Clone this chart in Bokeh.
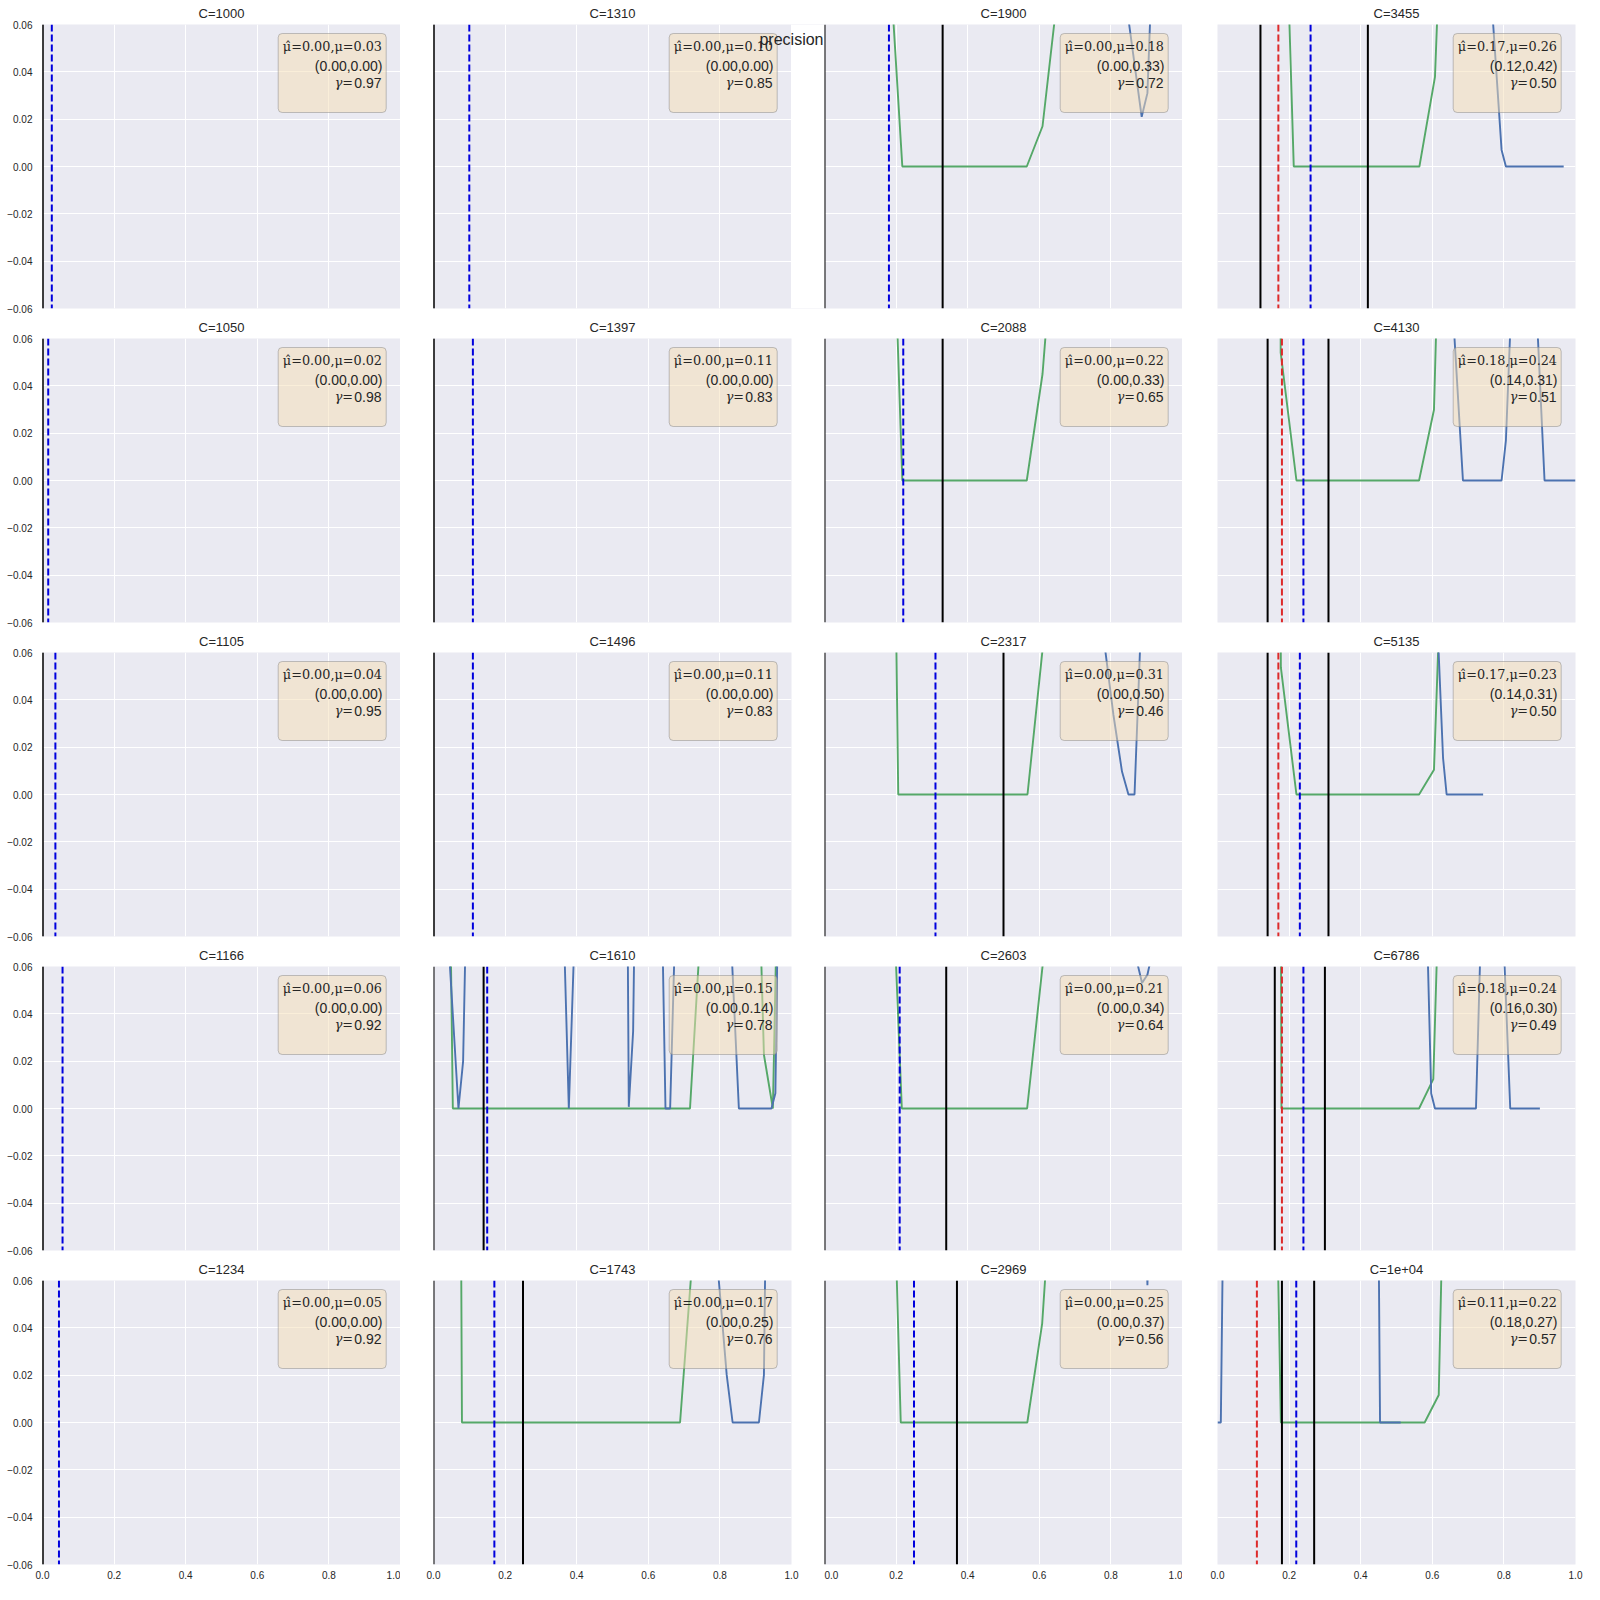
from bokeh.plotting import figure
from bokeh.layouts import column, row
from bokeh.models import (Range1d, FixedTicker, CustomJSTickFormatter, Span,
                          BoxAnnotation, Label)
from bokeh.embed import file_html
from bokeh.resources import INLINE

# ---------------- data (panels in column-major order) ----------------
c_labels = ["1000", "1050", "1105", "1166", "1234",
            "1310", "1397", "1496", "1610", "1743",
            "1900", "2088", "2317", "2603", "2969",
            "3455", "4130", "5135", "6786", "1e+04"]
mu_hat = [0.0, 0.0, 0.0, 0.0, 0.0,
          0.0, 0.0, 0.0, 0.0, 0.0,
          0.0, 0.0, 0.0, 0.0, 0.0,
          0.17, 0.18, 0.17, 0.18, 0.11]
mu = [0.026, 0.016, 0.036, 0.056, 0.046,
      0.10, 0.11, 0.11, 0.15, 0.17,
      0.18, 0.22, 0.31, 0.21, 0.25,
      0.26, 0.24, 0.23, 0.24, 0.22]
ci_lo = [0.0, 0.0, 0.0, 0.0, 0.0,
         0.0, 0.0, 0.0, 0.0, 0.0,
         0.0, 0.0, 0.0, 0.0, 0.0,
         0.12, 0.14, 0.14, 0.16, 0.18]
ci_hi = [0.0, 0.0, 0.0, 0.0, 0.0,
         0.0, 0.0, 0.0, 0.14, 0.25,
         0.33, 0.33, 0.50, 0.34, 0.37,
         0.42, 0.31, 0.31, 0.30, 0.27]
gamma = [0.97, 0.98, 0.95, 0.92, 0.92,
         0.85, 0.83, 0.83, 0.78, 0.76,
         0.72, 0.65, 0.46, 0.64, 0.56,
         0.50, 0.51, 0.50, 0.49, 0.57]

green_x = [[], [], [], [], [],
           [], [], [],
           [0.02, 0.045, 0.054, 0.7165, 0.745, 0.80, 0.91, 0.923, 0.948, 0.96],
           [0.07, 0.0795, 0.6887, 0.73, 0.80],
           [0.13, 0.174, 0.2174, 0.565, 0.609, 0.652, 0.70],
           [0.13, 0.174, 0.2174, 0.565, 0.609, 0.652, 0.70],
           [0.174, 0.206, 0.567, 0.611, 0.652],
           [0.174, 0.216, 0.566, 0.611, 0.652],
           [0.174, 0.213, 0.5665, 0.608, 0.652],
           [0.174, 0.213, 0.564, 0.6075, 0.652],
           [0.176, 0.1765, 0.2205, 0.563, 0.6047, 0.648],
           [0.1725, 0.177, 0.2205, 0.563, 0.6047, 0.648],
           [0.175, 0.1786, 0.563, 0.6028, 0.645],
           [0.165, 0.177, 0.5786, 0.618, 0.655]]
green_y = [[], [], [], [], [],
           [], [], [],
           [0.25, 0.108, 0.0, 0.0, 0.073, 0.30, 0.092, 0.0227, 0.0, 0.09],
           [0.30, 0.0, 0.0, 0.083, 0.30],
           [0.20, 0.107, 0.0, 0.0, 0.017, 0.074, 0.20],
           [0.30, 0.198, 0.0, 0.0, 0.045, 0.127, 0.30],
           [0.38, 0.0, 0.0, 0.064, 0.20],
           [0.1575, 0.0, 0.0, 0.0628, 0.20],
           [0.213, 0.0, 0.0, 0.0418, 0.142],
           [0.195, 0.0, 0.0, 0.0379, 0.216],
           [0.20, 0.054, 0.0, 0.0, 0.0299, 0.27],
           [0.20, 0.0537, 0.0, 0.0, 0.0105, 0.198],
           [0.20, 0.0, 0.0, 0.0124, 0.23],
           [0.10, 0.0, 0.0, 0.0116, 0.27]]

blue_x = [[], [], [], [], [],
          [], [], [],
          [0.04, 0.0697, 0.0827, 0.092, 0.20, 0.36, 0.378, 0.395, 0.45, 0.542,
           0.5455, 0.5576, 0.562, 0.60, 0.638, 0.648, 0.661, 0.676, 0.75,
           0.828, 0.853, 0.944, 0.955, 0.965],
          [0.79, 0.819, 0.8355, 0.909, 0.923, 0.93],
          [0.838, 0.886, 0.902, 0.914],
          [],
          [0.78, 0.807, 0.831, 0.849, 0.866, 0.884],
          [0.85, 0.887, 0.902, 0.93],
          [0.895, 0.902, 0.91],
          [0.765, 0.7935, 0.8056, 0.967],
          [0.655, 0.6856, 0.7935, 0.8056, 0.83, 0.88, 0.9135, 1.0],
          [0.605, 0.615, 0.63, 0.64, 0.742],
          [0.585, 0.597, 0.6074, 0.722, 0.735, 0.77, 0.79, 0.8177, 0.9005],
          [0.0, 0.0093, 0.02, 0.10, 0.445, 0.454, 0.5116]]
blue_y = [[], [], [], [], [],
          [], [], [],
          [0.075, 0.0, 0.0199, 0.09, 0.30, 0.098, 0.0, 0.078, 0.30, 0.084,
           0.0007, 0.0326, 0.083, 0.30, 0.0857, 0.0, 0.0, 0.082, 0.30,
           0.0815, 0.0, 0.0, 0.0064, 0.117],
          [0.0726, 0.0201, 0.0, 0.0, 0.0201, 0.11],
          [0.0745, 0.021, 0.031, 0.08],
          [],
          [0.066, 0.0337, 0.0097, 0.0, 0.0, 0.072],
          [0.0767, 0.053, 0.0565, 0.076],
          [0.10, 0.058, 0.10],
          [0.0714, 0.007, 0.0, 0.0],
          [0.078, 0.0, 0.0, 0.0169, 0.11, 0.109, 0.0, 0.0],
          [0.30, 0.07, 0.0155, 0.0, 0.0],
          [0.078, 0.0063, 0.0, 0.0, 0.071, 0.30, 0.106, 0.0, 0.0],
          [0.0, 0.0, 0.14, 0.30, 0.18, 0.0, 0.0]]

x_ticks = [0.0, 0.2, 0.4, 0.6, 0.8, 1.0]
y_ticks = [-0.06, -0.04, -0.02, 0.0, 0.02, 0.04, 0.06]
suptitle = "precision"

# ---------------- layout / style ----------------
N_ROWS, N_COLS = 5, 4
FW, FH = 358, 284
XMIN, XMAX, YMIN, YMAX = 0.0, 1.0, -0.06, 0.06
col_left = [42, 33, 0, 35]
col_right = [0, 33, 0, 25]
row_bottom = [6, 6, 6, 6, 36]
BG = "#EAEAF2"
TXT = "#262626"
SANS = "Liberation Sans"
SERIF = "DejaVu Serif"
TITLE_PX = 13
SUP_PANEL = (0, 1)          # panel that carries the figure-wide title

# text box offsets from frame's right / top (pixels)
BOX_L, BOX_R, BOX_T, BOX_B = 122.3, 14.3, 9.0, 88.0


def px_x(off):
    return XMAX - off / FW * (XMAX - XMIN)


def px_y(off):
    return YMAX - off / FH * (YMAX - YMIN)


def text_width(s, px):
    # approximate Liberation Sans advance widths
    w = {"C": 0.722, "=": 0.584, "e": 0.556, "+": 0.584}
    return sum(w.get(ch, 0.556) for ch in s) * px


def make_panel(r, c):
    i = c * N_ROWS + r
    sup = (r, c) == SUP_PANEL
    extra = col_right[c] if sup else 0      # frame widened into the gap
    x_end = XMAX + extra / FW * (XMAX - XMIN)
    title = "C=" + c_labels[i]
    p = figure(frame_width=FW + extra, frame_height=FH,
               x_range=Range1d(XMIN, x_end), y_range=Range1d(YMIN, YMAX),
               output_backend="svg", toolbar_location=None,
               min_border_left=col_left[c],
               min_border_right=col_right[c] - extra,
               min_border_top=24, min_border_bottom=row_bottom[r],
               background_fill_color=BG, border_fill_color="white",
               outline_line_color=None, title=title)
    if sup:
        p.title.align = "left"
        p.title.offset = FW / 2 - text_width(title, TITLE_PX) / 2
    else:
        p.title.align = "center"
    p.title.text_font = SANS
    p.title.text_font_size = "%dpx" % TITLE_PX
    p.title.text_font_style = "normal"
    p.title.text_color = TXT
    p.title.standoff = 7

    p.xaxis.ticker = FixedTicker(ticks=x_ticks)
    p.yaxis.ticker = FixedTicker(ticks=y_ticks)
    p.xaxis.formatter = CustomJSTickFormatter(code="return tick.toFixed(1);")
    p.yaxis.formatter = CustomJSTickFormatter(
        code="return (tick < -1e-9 ? '\u2212' : '') + Math.abs(tick).toFixed(2);")
    for ax in p.axis:
        ax.axis_line_color = None
        ax.major_tick_line_color = None
        ax.minor_tick_line_color = None
        ax.major_tick_out = 0
        ax.major_tick_in = 0
        ax.minor_tick_out = 0
        ax.minor_tick_in = 0
        ax.major_label_text_font = SANS
        ax.major_label_text_font_size = "10px"
        ax.major_label_text_color = TXT
    p.xaxis.major_label_standoff = 6
    p.yaxis.major_label_standoff = 10
    p.xaxis.visible = (r == N_ROWS - 1)
    p.yaxis.visible = (c == 0)

    p.xgrid.ticker = FixedTicker(ticks=x_ticks)
    p.ygrid.ticker = FixedTicker(ticks=y_ticks)
    for g in (p.xgrid, p.ygrid):
        g.grid_line_color = "white"
        g.grid_line_width = 1

    if sup:
        # blank out the part of the widened frame that lies in the gap
        p.add_layout(BoxAnnotation(left=XMAX, right=x_end, fill_color="white",
                                   fill_alpha=1.0, line_color=None, level="underlay"))

    if green_x[i]:
        p.line(green_x[i], green_y[i], line_color="#55A868", line_width=1.9)
    if blue_x[i]:
        p.line(blue_x[i], blue_y[i], line_color="#4C72B0", line_width=1.9)

    p.add_layout(Span(location=mu[i], dimension="height", line_color="#0000DD",
                      line_width=2, line_dash="7 3"))
    if mu_hat[i] != ci_lo[i]:       # otherwise fully hidden under the CI line
        p.add_layout(Span(location=mu_hat[i], dimension="height",
                          line_color="#DD2A2A", line_width=2, line_dash="7 3"))
    p.add_layout(Span(location=ci_lo[i], dimension="height", line_color="black",
                      line_width=2, level="overlay"))
    p.add_layout(Span(location=ci_hi[i], dimension="height", line_color="black",
                      line_width=2, level="overlay"))

    p.add_layout(BoxAnnotation(left=px_x(BOX_L), right=px_x(BOX_R),
                               top=px_y(BOX_T), bottom=px_y(BOX_B),
                               fill_color="#F5DEB3", fill_alpha=0.5,
                               line_color="#8a8a8a", line_alpha=0.5, line_width=1,
                               border_radius=4))
    l1 = "\u03bc\u0302=%.2f,\u03bc=%.2f" % (mu_hat[i], mu[i])
    l2 = "(%.2f,%.2f)" % (ci_lo[i], ci_hi[i])
    l3 = "%.2f" % gamma[i]
    p.add_layout(Label(x=XMAX, y=YMAX, x_offset=-18.5, y_offset=-22.4, text=l1,
                       text_align="right", text_baseline="alphabetic",
                       text_font=SERIF, text_font_size="12.8px", text_color=TXT))
    p.add_layout(Label(x=XMAX, y=YMAX, x_offset=-18.0, y_offset=-41.7, text=l2,
                       text_align="right", text_baseline="alphabetic",
                       text_font=SANS, text_font_size="14px", text_color=TXT))
    p.add_layout(Label(x=XMAX, y=YMAX, x_offset=-19.0, y_offset=-58.4, text=l3,
                       text_align="right", text_baseline="alphabetic",
                       text_font=SANS, text_font_size="14px", text_color=TXT))
    p.add_layout(Label(x=XMAX, y=YMAX, x_offset=-47.5, y_offset=-58.4, text="\u03b3=",
                       text_align="right", text_baseline="alphabetic",
                       text_font=SERIF, text_font_style="italic",
                       text_font_size="12.8px", text_color=TXT))
    if sup:
        p.add_layout(Label(x=XMAX, y=YMAX, x_offset=extra - 1, y_offset=-15,
                           text=suptitle, text_align="right", text_baseline="middle",
                           text_font=SANS, text_font_size="16px", text_color=TXT))
    return p


rows = []
for r in range(N_ROWS):
    rows.append(row(*[make_panel(r, c) for c in range(N_COLS)], spacing=0))
layout = column(*rows, spacing=0)

open("out.html", "w").write(file_html(layout, INLINE))
